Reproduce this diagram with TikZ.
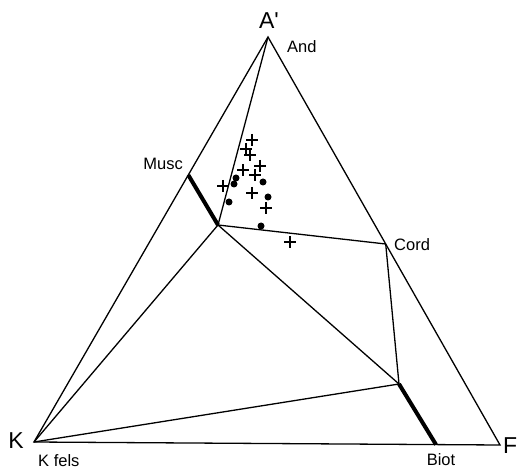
\documentclass[tikz,border=0pt]{standalone}
\usepackage{fontspec}
\setmainfont{Liberation Sans}
\begin{document}
\begin{tikzpicture}[x=1pt,y=-1pt,
  edge/.style={line width=1.3pt,line join=miter},
  tie/.style={line width=4pt},
  small/.style={font=\fontsize{16.5}{16.5}\selectfont,inner sep=0pt},
  big/.style={font=\fontsize{23}{23}\selectfont,inner sep=0pt},
  dot/.style={circle,fill=black,inner sep=0pt,minimum size=7pt},
  cross/.pic={\draw[line width=1.3pt] (-6,0) -- (6,0) (0,-6) -- (0,6);}]
\useasboundingbox (0,0) rectangle (522,470);
% corner points
\coordinate (A) at (268,37);
\coordinate (K) at (34,442);
\coordinate (F) at (500,445);
\coordinate (Musc) at (188.3,175);
\coordinate (Cord) at (385.7,244);
\coordinate (Biot) at (436,444.6);
\coordinate (J1) at (218,225);
\coordinate (J2) at (399,384);
% triangle
\draw[edge] (A) -- (K) -- (F) -- cycle;
% tie lines
\draw[edge] (A) -- (J1);
\draw[edge] (J1) -- (Cord);
\draw[edge] (Cord) -- (J2);
\draw[edge] (J1) -- (J2);
\draw[edge] (J1) -- (K);
\draw[edge] (K) -- (J2);
\draw[tie] (Musc) -- (J1);
\draw[tie] (J2) -- (Biot);
% labels
\node[big] (lA) at (269,21) {A\textquotesingle};
\node[big,anchor=east] (lK) at (24,441) {K};
\node[big,anchor=west] (lF) at (503,446) {F};
\node[small,anchor=west] (lAnd) at (287,47) {And};
\node[small,anchor=east] (lMusc) at (183,164) {Musc};
\node[small,anchor=west] (lCord) at (394,245) {Cord};
\node[small] (lBiot) at (441,460) {Biot};
\node[small,anchor=west] (lKf) at (38,461) {K fels};
% data: crosses
\foreach \p in {(252,140),(246,149),(250,155),(260,166),(243,170),(255,175),(223,186),(252,193),(266,208),(290,242)}
  \pic at \p {cross};
% data: dots
\foreach \p [count=\i] in {(236,178),(234,184),(263,182),(229,202),(268,197),(261,226)}
  \node[dot] (d\i) at \p {};
\end{tikzpicture}
\end{document}
